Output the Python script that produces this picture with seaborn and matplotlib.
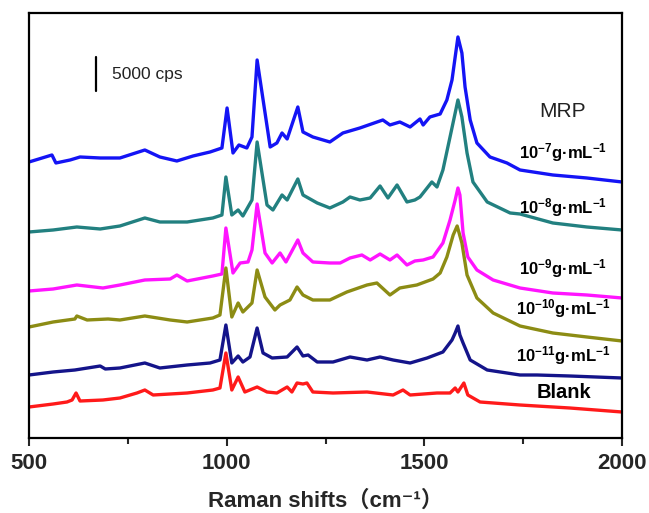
"""
SERS spectra of MRP at different concentrations (stacked Raman traces).
"""
import matplotlib
matplotlib.use('Agg')
import matplotlib.pyplot as plt
import seaborn as sns

# --- data (x in cm-1, y in stacked intensity units) ---
x_1e7 = [500, 558, 568, 604, 629, 680, 730, 793, 831, 874, 915, 958, 988, 1001, 1016, 1031,
         1051, 1064, 1077, 1110, 1127, 1140, 1153, 1180, 1193, 1218, 1261, 1294, 1337, 1395,
         1413, 1438, 1464, 1489, 1497, 1514, 1540, 1557, 1570, 1578, 1585, 1595, 1603, 1616,
         1633, 1666, 1709, 1742, 1825, 1911, 2000]
y_1e7 = [276, 283, 275, 278, 281, 280, 280, 288, 281, 277, 282, 286, 290, 330, 285, 293,
         290, 301, 378, 291, 295, 305, 299, 331, 306, 301, 296, 305, 310, 318,
         313, 316, 311, 319, 313, 321, 324, 338, 358, 381, 401, 385, 351, 318,
         295, 281, 275, 268, 263, 260, 256]

x_1e8 = [500, 561, 621, 680, 730, 793, 831, 900, 965, 988, 998, 1013, 1029, 1041, 1064, 1077,
         1102, 1117, 1140, 1153, 1180, 1193, 1229, 1261, 1294, 1312, 1337, 1363, 1388, 1408,
         1431, 1456, 1476, 1489, 1519, 1532, 1547, 1565, 1578, 1585, 1595, 1608, 1623, 1659,
         1717, 1742, 1825, 1911, 2000]
y_1e8 = [206, 208, 211, 209, 212, 220, 216, 216, 220, 223, 261, 223, 228, 222, 238, 296,
         233, 228, 243, 238, 259, 243, 235, 230, 236, 241, 238, 240, 252, 240,
         253, 236, 238, 241, 256, 251, 268, 301, 325, 338, 321, 285, 256, 236,
         225, 224, 215, 211, 208]

x_1e9 = [500, 561, 621, 687, 730, 793, 857, 874, 900, 965, 988, 998, 1016, 1034, 1054, 1064,
         1077, 1097, 1115, 1135, 1150, 1180, 1193, 1218, 1261, 1287, 1312, 1342, 1363, 1388,
         1413, 1431, 1456, 1476, 1497, 1522, 1547, 1565, 1578, 1585, 1590, 1598, 1610, 1633,
         1674, 1742, 1825, 1911, 2000]
y_1e9 = [147, 149, 153, 150, 153, 158, 159, 163, 157, 162, 164, 210, 165, 175, 176, 188,
         234, 185, 175, 185, 176, 198, 185, 176, 175, 175, 180, 183, 178, 184,
         178, 183, 173, 177, 178, 181, 195, 218, 238, 250, 243, 205, 181, 168,
         158, 150, 145, 143, 140]

x_1e10 = [500, 561, 616, 621, 647, 700, 730, 793, 857, 900, 965, 983, 998, 1013, 1029, 1041,
          1064, 1077, 1097, 1122, 1135, 1160, 1178, 1193, 1218, 1261, 1304, 1355, 1380, 1413,
          1438, 1481, 1522, 1540, 1557, 1573, 1583, 1595, 1608, 1633, 1674, 1742, 1825, 1911,
          2000]
y_1e10 = [111, 116, 119, 122, 118, 119, 118, 122, 118, 116, 120, 123, 170, 121, 135, 126,
          135, 168, 141, 128, 133, 138, 151, 143, 138, 138, 146, 153, 155, 143,
          150, 153, 159, 165, 181, 203, 212, 195, 163, 140, 125, 112, 105, 101,
          97]

x_1e11 = [500, 561, 616, 680, 693, 730, 793, 831, 900, 958, 983, 998, 1013, 1029, 1041, 1059,
          1077, 1092, 1115, 1153, 1178, 1193, 1206, 1229, 1269, 1312, 1355, 1388, 1421, 1464,
          1507, 1547, 1570, 1578, 1585, 1590, 1598, 1616, 1659, 1742, 1785, 1868, 2000]
y_1e11 = [63, 66, 68, 72, 69, 70, 75, 70, 73, 75, 78, 113, 75, 82, 76, 81,
          110, 85, 80, 81, 91, 82, 83, 76, 76, 81, 78, 81, 78, 75,
          80, 86, 98, 105, 112, 103, 95, 78, 68, 63, 63, 62, 60]

x_blank = [500, 561, 596, 609, 619, 629, 687, 730, 773, 793, 814, 900, 965, 983, 998, 1013,
           1029, 1046, 1077, 1102, 1127, 1153, 1165, 1178, 1193, 1203, 1218, 1269, 1355, 1421,
           1446, 1464, 1532, 1565, 1578, 1585, 1600, 1610, 1641, 1742, 1868, 2000]
y_blank = [31, 34, 36, 38, 45, 37, 38, 40, 45, 48, 43, 45, 48, 50, 85, 48,
           61, 46, 51, 46, 45, 51, 46, 55, 54, 55, 46, 45, 46, 43,
           48, 43, 45, 45, 50, 46, 55, 43, 36, 33, 30, 26]

series = [
    (x_1e7, y_1e7, '#1414F5', r'$\mathbf{10^{-7}g·mL^{-1}}$', 285, 12),
    (x_1e8, y_1e8, '#228080', r'$\mathbf{10^{-8}g·mL^{-1}}$', 230, 12),
    (x_1e9, y_1e9, '#FF14FF', r'$\mathbf{10^{-9}g·mL^{-1}}$', 169, 12),
    (x_1e10, y_1e10, '#8C8C14', r'$\mathbf{10^{-10}g·mL^{-1}}$', 129, 12),
    (x_1e11, y_1e11, '#14148A', r'$\mathbf{10^{-11}g·mL^{-1}}$', 82, 12),
    (x_blank, y_blank, '#FF1A1A', 'Blank', 45, 14.5),
]

sns.set_style('white')
plt.rcParams['font.family'] = ['Liberation Sans', 'DejaVu Sans', 'Noto Sans CJK SC']
plt.rcParams['mathtext.fontset'] = 'custom'
plt.rcParams['mathtext.rm'] = 'Liberation Sans'
plt.rcParams['mathtext.bf'] = 'Liberation Sans:bold'

fig = plt.figure(figsize=(6.49, 5.13), dpi=100)
ax = fig.add_axes([0.0447, 0.1462, 0.9137, 0.8285])

for xs, ys, col, lab, ly, fs in series:
    sns.lineplot(x=xs, y=ys, color=col, linewidth=2.4, estimator=None, ax=ax)
    ax.text(1852, ly, lab, ha='center', va='center', fontsize=fs,
            fontweight='bold', color='black')

ax.text(1850, 326, 'MRP', ha='center', va='center', fontsize=15, color='#222222')

# scale bar
ax.plot([669, 669], [347, 381], color='black', lw=1.6)
ax.text(710, 363, '5000 cps', ha='left', va='center', fontsize=12.5, color='#222222')

ax.set_xlim(500, 2000)
ax.set_ylim(0, 425)
ax.set_yticks([])
ax.set_xticks([500, 1000, 1500, 2000])
ax.set_xticks([750, 1250, 1750], minor=True)
ax.tick_params(axis='x', which='major', direction='out', length=6, width=1.5,
               labelsize=16, pad=5, bottom=True)
ax.tick_params(axis='x', which='minor', direction='out', length=4, width=1.5, bottom=True)
for lbl in ax.get_xticklabels():
    lbl.set_fontweight('bold')
for sp in ax.spines.values():
    sp.set_linewidth(1.6)
    sp.set_color('black')

ax.set_xlabel('Raman shifts（cm⁻¹）', fontsize=16, fontweight='bold', labelpad=12)

fig.savefig('out.png', dpi=100)
print("Saved: out.png")
